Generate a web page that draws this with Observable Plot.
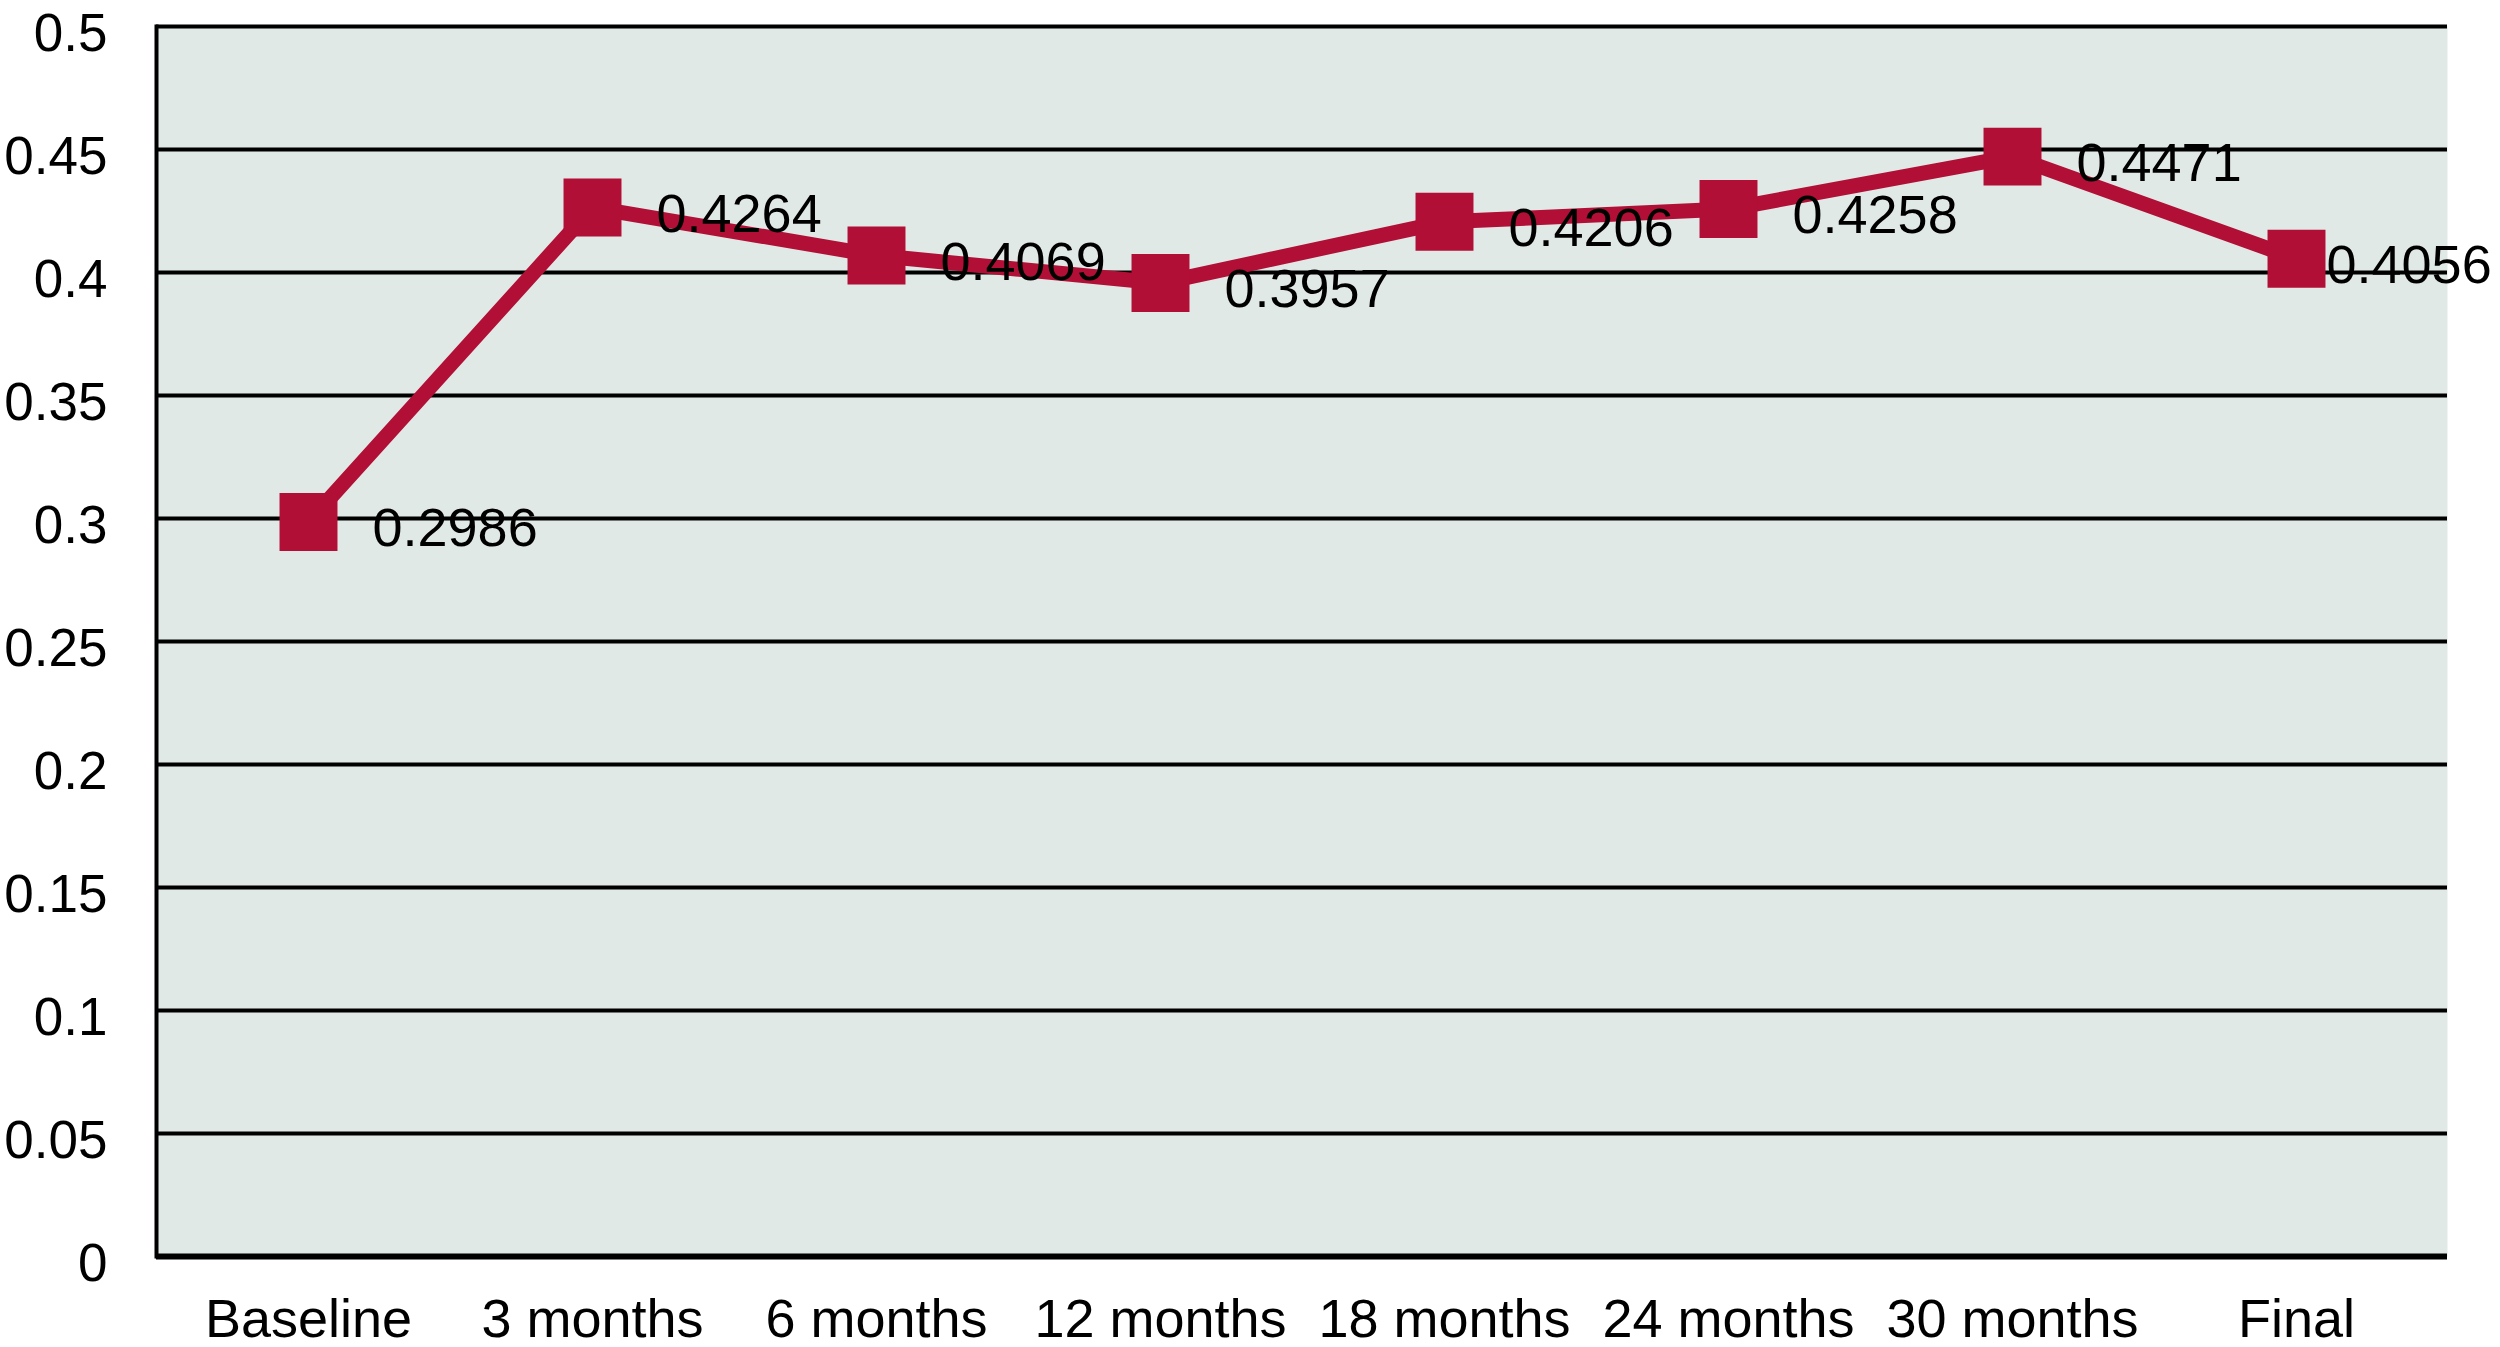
<!DOCTYPE html>
<html>
<head>
<meta charset="utf-8">
<script src="https://cdn.jsdelivr.net/npm/d3@7"></script>
<script src="https://cdn.jsdelivr.net/npm/@observablehq/plot@0.6"></script>
<style>
  html, body { margin: 0; padding: 0; background: #ffffff; }
  #chart svg { display: block; overflow: visible; }
</style>
</head>
<body>
<div id="chart"></div>
<script>
const categories = ["Baseline", "3 months", "6 months", "12 months", "18 months", "24 months", "30 months", "Final"];
const values = [0.2986, 0.4264, 0.4069, 0.3957, 0.4206, 0.4258, 0.4471, 0.4056];
const yTicks = [0, 0.05, 0.1, 0.15, 0.2, 0.25, 0.3, 0.35, 0.4, 0.45, 0.5];

const data = categories.map((c, i) => ({category: c, value: values[i]}));
const red = "#B10F36";
const font = "'Liberation Sans', Arial, Helvetica, sans-serif";

const chart = Plot.plot({
  width: 2500,
  height: 1347,
  marginLeft: 156,
  marginRight: 53,
  marginTop: 26,
  marginBottom: 91,
  style: {fontFamily: font, background: "#ffffff", color: "#000"},
  x: {type: "point", domain: categories, padding: 0.52, label: null},
  y: {domain: [0, 0.5], label: null},
  marks: [
    Plot.frame({fill: "#E1E9E7", stroke: null}),
    Plot.ruleY(yTicks.filter(d => d > 0), {stroke: "#000", strokeWidth: 4}),
    Plot.ruleY([0], {stroke: "#000", strokeWidth: 6}),
    Plot.frame({anchor: "left", stroke: "#000", strokeWidth: 4}),
    Plot.axisY({ticks: yTicks, tickSize: 0, tickPadding: 49, fontSize: 53, dy: 8,
      tickFormat: d => String(+d.toFixed(2)), label: null}),
    Plot.axisX({tickSize: 0, tickPadding: 42, fontSize: 54, label: null}),
    Plot.line(data, {x: "category", y: "value", stroke: red, strokeWidth: 15, strokeLinejoin: "miter"}),
    Plot.dot(data, {x: "category", y: "value", symbol: "square", r: 32.7, fill: red, stroke: null}),
    Plot.text(data.slice(0, -1), {x: "category", y: "value", text: d => String(d.value), textAnchor: "start",
      dx: 64, dy: 7, fontSize: 54, fill: "#000"}),
    Plot.text(data.slice(-1), {x: "category", y: "value", text: d => String(d.value), textAnchor: "start",
      dx: 30, dy: 7, fontSize: 54, fill: "#000"})
  ]
});
document.getElementById("chart").appendChild(chart);
</script>
</body>
</html>
